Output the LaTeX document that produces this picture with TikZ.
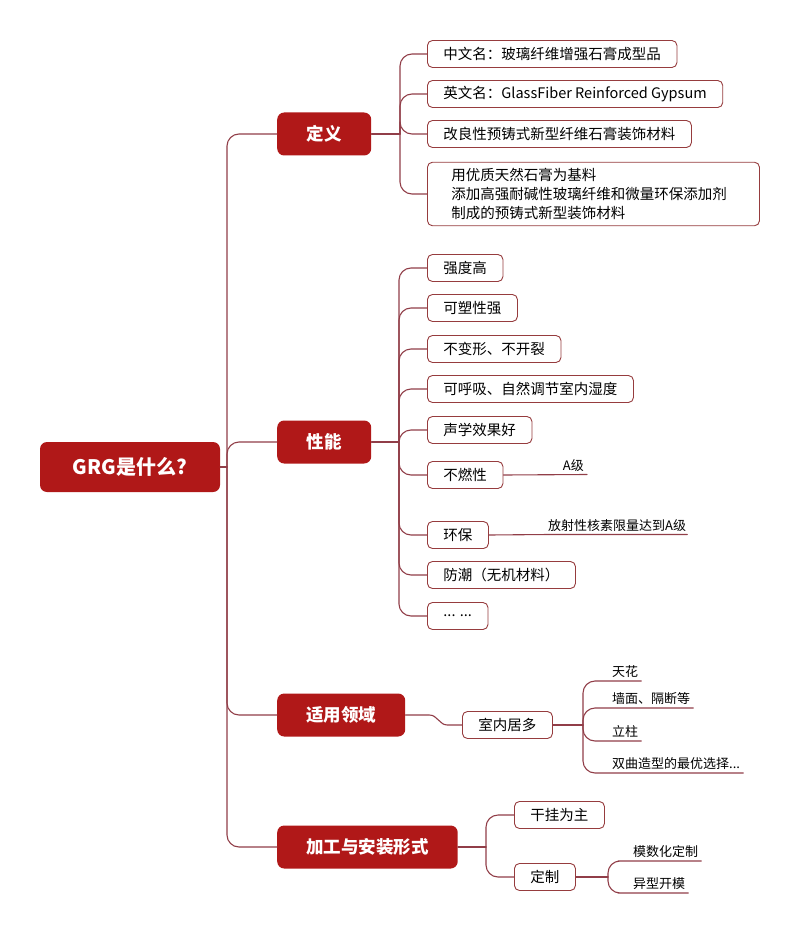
\documentclass[tikz,border=0pt]{standalone}
\usepackage{fontspec}
\newfontfamily\cjk{Noto Sans CJK SC}
\definecolor{grgred}{RGB}{176,24,24}
\definecolor{grgline}{RGB}{145,62,72}
\definecolor{grgedge}{RGB}{150,60,62}

\begin{document}
\begin{tikzpicture}[x=1pt, y=-1pt, font=\cjk, line join=round, line cap=round,
	mainbox/.style={fill=grgred, text=white, rounded corners=7pt, minimum height=43pt, minimum width=94pt, inner xsep=29pt, font=\cjk\bfseries\fontsize{17.5}{20}\selectfont},
	leafbox/.style={draw=grgedge, fill=white, line width=0.9pt, rounded corners=5pt, minimum height=27pt, inner xsep=16pt, anchor=west, font=\cjk\fontsize{14.5}{19}\selectfont},
	tagtext/.style={inner xsep=3pt, inner ysep=3pt, font=\cjk\fontsize{13}{15}\selectfont},
	link/.style={draw=grgline, line width=1.1pt, rounded corners=12pt}]
	\useasboundingbox (0,0) rectangle (800,933);
	
	% [Gốc và các nhánh chính]
	\node[mainbox, minimum width=180pt, minimum height=50pt, font=\cjk\bfseries\fontsize{20}{24}\selectfont] (root) at (130,467) {GRG是什么?};
	\node[mainbox, anchor=west] (def) at (277,134) {定义};
	\node[mainbox, anchor=west] (perf) at (277,442) {性能};
	\node[mainbox, anchor=west] (area) at (277,715) {适用领域};
	\node[mainbox, anchor=west] (craft) at (277,847) {加工与安装形式};
	\coordinate (trunk) at (227,467);
	\draw[link] (root.east) -- (trunk);
	\foreach \b in {def,perf,area,craft} \draw[link] (trunk) |- (\b.west);
	
	% [定义]
	\node[leafbox] (cname) at (427,54) {中文名：玻璃纤维增强石膏成型品};
	\node[leafbox] (ename) at (427,94) {英文名：GlassFiber Reinforced Gypsum};
	\node[leafbox] (mat) at (427,134) {改良性预铸式新型纤维石膏装饰材料};
	\node[leafbox, text width=284pt, inner xsep=24pt, inner ysep=6pt, align=left] (made) at (427,194) {用优质天然石膏为基料\\添加高强耐碱性玻璃纤维和微量环保添加剂\\制成的预铸式新型装饰材料};
	\coordinate (defJ) at (400,134);
	\draw[link] (def.east) -- (defJ);
	\foreach \l in {cname,ename,mat,made} \draw[link] (defJ) |- (\l.west);
	
	% [性能]
	\node[leafbox] (strong) at (427,268) {强度高};
	\node[leafbox] (plastic) at (427,308) {可塑性强};
	\node[leafbox] (stable) at (427,349) {不变形、不开裂};
	\node[leafbox] (breath) at (427,389) {可呼吸、自然调节室内湿度};
	\node[leafbox] (sound) at (427,430) {声学效果好};
	\node[leafbox] (fire) at (427,475) {不燃性};
	\node[leafbox] (eco) at (427,535) {环保};
	\node[leafbox] (damp) at (427,575) {防潮（无机材料）};
	\node[leafbox] (more) at (427,616) {... ...};
	\coordinate (perfJ) at (399,442);
	\draw[link] (perf.east) -- (perfJ);
	\foreach \l in {strong,plastic,stable,breath,sound,fire,eco,damp,more} \draw[link] (perfJ) |- (\l.west);
	\node[tagtext, anchor=south east] (gradeA) at (587,474.5) {A级};
	\draw[link] (fire.east) -- (gradeA.south east);
	\node[tagtext, anchor=south west, inner xsep=1pt] (radio) at (547,534.5) {放射性核素限量达到A级};
	\draw[link] (eco.east) -- (radio.south west) -- (radio.south east);
	
	% [适用领域]
	\node[leafbox] (indoor) at (462,725) {室内居多};
	\draw[link, rounded corners=0pt] (area.east) -- ++(24,0) to[out=0,in=180] ++(18,10) -- (indoor.west);
	\coordinate (indoorJ) at (583,725);
	\draw[link] (indoor.east) -- (indoorJ);
	\node[tagtext, anchor=south west] (ceil) at (609,681) {天花};
	\node[tagtext, anchor=south west] (wall) at (609,708) {墙面、隔断等};
	\node[tagtext, anchor=south west] (column) at (609,741) {立柱};
	\node[tagtext, anchor=south west] (curved) at (609,773) {双曲造型的最优选择...};
	\foreach \t in {ceil,wall,column,curved} \draw[link] (indoorJ) |- (\t.south west) -- (\t.south east);
	
	% [加工与安装形式]
	\node[leafbox] (hang) at (514,815) {干挂为主};
	\node[leafbox] (custom) at (514,877) {定制};
	\coordinate (craftJ) at (486,847);
	\draw[link] (craft.east) -- (craftJ);
	\foreach \l in {hang,custom} \draw[link] (craftJ) |- (\l.west);
	\node[tagtext, anchor=south west] (modular) at (630,861) {模数化定制};
	\node[tagtext, anchor=south west] (shaped) at (630,893) {异型开模};
	\coordinate (customJ) at (608,877);
	\draw[link] (custom.east) -- (customJ);
	\foreach \t in {modular,shaped} \draw[link] (customJ) |- (\t.south west) -- (\t.south east);
\end{tikzpicture}
\end{document}
